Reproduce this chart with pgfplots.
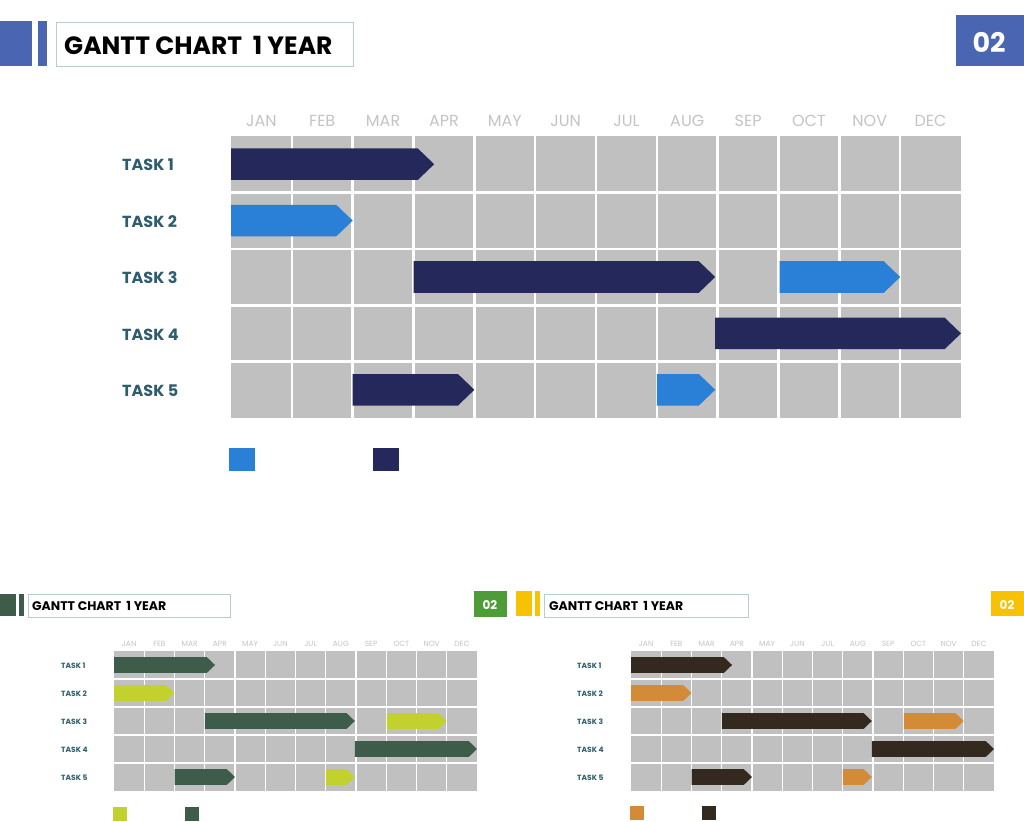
\documentclass[border=0pt]{standalone}
\usepackage{fontspec}
\setmainfont{Poppins}
\usepackage{pgfplots}
\pgfplotsset{compat=1.18}
\definecolor{accent}{HTML}{4A66B2}
\definecolor{navy}{HTML}{25285A}
\definecolor{lblue}{HTML}{2A7FD6}
\definecolor{cellgray}{HTML}{C0C0C0}
\definecolor{monthgray}{HTML}{C4C4C4}
\definecolor{taskteal}{HTML}{2E5D6E}
\definecolor{tborder}{HTML}{B7CDD2}
\definecolor{gdark}{HTML}{3D5C4A}
\definecolor{glight}{HTML}{C3D12F}
\definecolor{gbox}{HTML}{4E9C37}
\definecolor{bdark}{HTML}{33291F}
\definecolor{borange}{HTML}{D38B38}
\definecolor{ybox}{HTML}{F7C204}

\pgfplotsset{
  gantt/.style={
    scale only axis, anchor=north west, clip=false,
    xmin=0, xmax=12, ymin=0.5, ymax=5.5, y dir=reverse,
    axis background/.style={fill=cellgray},
    axis line style={draw=none},
    xtick={0.5,1.5,2.5,3.5,4.5,5.5,6.5,7.5,8.5,9.5,10.5,11.5},
    xticklabels={JAN,FEB,MAR,APR,MAY,JUN,JUL,AUG,SEP,OCT,NOV,DEC},
    xticklabel pos=upper,
    ytick={1,2,3,4,5},
    yticklabels={TASK 1,TASK 2,TASK 3,TASK 4,TASK 5},
    minor xtick={1,2,3,4,5,6,7,8,9,10,11},
    minor ytick={1.5,2.5,3.5,4.5},
    xminorgrids=true, yminorgrids=true,
    xmajorgrids=false, ymajorgrids=false,
    major tick length=0pt, minor tick length=0pt,
    legend columns=2,
    x tick label style={anchor=base, inner sep=0pt, text=monthgray},
    y tick label style={anchor=mid west, inner sep=0pt, text=taskteal},
  },
}

% the same task data in every panel: #1 light colour, #2 dark colour
\newcommand\ganttbars[2]{%
  % TASK 1: Jan -> early Apr (dark)
  \addplot[fill=#2,draw=none,forget plot] coordinates {(0,0.72) (3.07,0.72) (3.34,1) (3.07,1.28) (0,1.28)};
  % TASK 2: Jan -> Feb (light)
  \addplot[fill=#1,draw=none,forget plot] coordinates {(0,1.72) (1.73,1.72) (2,2) (1.73,2.28) (0,2.28)};
  % TASK 3: Apr -> Aug (dark), Oct -> Nov (light)
  \addplot[fill=#2,draw=none,forget plot] coordinates {(3,2.72) (7.69,2.72) (7.96,3) (7.69,3.28) (3,3.28)};
  \addplot[fill=#1,draw=none,forget plot] coordinates {(9.02,2.72) (10.73,2.72) (11,3) (10.73,3.28) (9.02,3.28)};
  % TASK 4: end Aug -> Dec (dark)
  \addplot[fill=#2,draw=none,forget plot] coordinates {(7.96,3.72) (11.73,3.72) (12,4) (11.73,4.28) (7.96,4.28)};
  % TASK 5: Mar -> Apr (dark), Aug (light)
  \addplot[fill=#2,draw=none,forget plot] coordinates {(2,4.72) (3.73,4.72) (4,5) (3.73,5.28) (2,5.28)};
  \addplot[fill=#1,draw=none,forget plot] coordinates {(7,4.72) (7.69,4.72) (7.96,5) (7.69,5.28) (7,5.28)};
  \addlegendimage{fill=#1,draw=none}\addlegendentry{}
  \addlegendimage{fill=#2,draw=none}\addlegendentry{}
}

\begin{document}
\begin{tikzpicture}
\useasboundingbox (0pt,0pt) rectangle (1024pt,-821pt);
\fill[white] (0pt,0pt) rectangle (1024pt,-821pt);

% ---------------- main panel ----------------
\fill[accent] (0pt,-21pt) rectangle (32pt,-66pt);
\fill[accent] (38pt,-21pt) rectangle (47pt,-66pt);
\draw[tborder, line width=1pt] (56.5pt,-22.5pt) rectangle (353pt,-67pt);
\node[anchor=base west, inner sep=0pt] at (64pt,-55pt) {\fontsize{25}{30}\selectfont\bfseries GANTT CHART\ \ 1 YEAR};
\fill[accent] (956pt,-15pt) rectangle (1024pt,-66pt);
\node[anchor=base, inner sep=0pt, text=white] at (989pt,-53pt) {\fontsize{27}{32}\selectfont\bfseries 02};

\begin{axis}[gantt,
  at={(231pt,-136pt)}, width=730pt, height=282pt,
  minor grid style={white, line width=2.6pt},
  x tick label style={font=\fontsize{16}{19}\selectfont, yshift=10pt},
  y tick label style={font=\fontsize{16}{19}\selectfont\bfseries, xshift=-109pt, yshift=-4pt},
  legend style={at={(axis description cs:-0.003,-0.106)}, anchor=north west,
    draw=none, fill=none, inner sep=0pt, column sep=0pt,
    nodes={inner sep=0pt, outer sep=0pt},
    /tikz/every even column/.append style={column sep=117pt}},
  legend image code/.code={\fill[#1] (0pt,-11.5pt) rectangle (26pt,11.5pt);},
]
\ganttbars{lblue}{navy}
\end{axis}

% ---------------- green panel ----------------
\fill[gdark] (0pt,-594pt) rectangle (16pt,-616pt);
\fill[gdark] (19pt,-594pt) rectangle (24pt,-616pt);
\draw[tborder, line width=0.8pt] (28pt,-594pt) rectangle (230pt,-617pt);
\node[anchor=base west, inner sep=0pt] at (32pt,-610pt) {\fontsize{12.5}{15}\selectfont\bfseries GANTT CHART\ \ 1 YEAR};
\fill[gbox] (474pt,-591pt) rectangle (507pt,-617pt);
\node[anchor=base, inner sep=0pt, text=white] at (490pt,-609pt) {\fontsize{12}{14}\selectfont\bfseries 02};

\begin{axis}[gantt,
  at={(114pt,-651pt)}, width=363pt, height=140pt,
  minor grid style={white, line width=1.3pt},
  x tick label style={font=\fontsize{7.5}{9}\selectfont, yshift=5pt},
  y tick label style={font=\fontsize{7.5}{9}\selectfont\bfseries, xshift=-53pt, yshift=-0.5pt},
  legend style={at={(axis description cs:-0.003,-0.114)}, anchor=north west,
    draw=none, fill=none, inner sep=0pt, column sep=0pt,
    nodes={inner sep=0pt, outer sep=0pt},
    /tikz/every even column/.append style={column sep=57pt}},
  legend image code/.code={\fill[#1] (0pt,-7pt) rectangle (14pt,7pt);},
]
\ganttbars{glight}{gdark}
\end{axis}

% ---------------- brown panel ----------------
\fill[ybox] (516pt,-591pt) rectangle (532pt,-616pt);
\fill[ybox] (535pt,-591pt) rectangle (540pt,-616pt);
\draw[tborder, line width=0.8pt] (544pt,-594pt) rectangle (748pt,-617pt);
\node[anchor=base west, inner sep=0pt] at (549pt,-610pt) {\fontsize{12.5}{15}\selectfont\bfseries GANTT CHART\ \ 1 YEAR};
\fill[ybox] (991pt,-591pt) rectangle (1024pt,-616pt);
\node[anchor=base, inner sep=0pt, text=white] at (1007pt,-609pt) {\fontsize{12}{14}\selectfont\bfseries 02};

\begin{axis}[gantt,
  at={(631pt,-651pt)}, width=363pt, height=140pt,
  minor grid style={white, line width=1.3pt},
  x tick label style={font=\fontsize{7.5}{9}\selectfont, yshift=5pt},
  y tick label style={font=\fontsize{7.5}{9}\selectfont\bfseries, xshift=-54pt, yshift=-0.5pt},
  legend style={at={(axis description cs:-0.003,-0.107)}, anchor=north west,
    draw=none, fill=none, inner sep=0pt, column sep=0pt,
    nodes={inner sep=0pt, outer sep=0pt},
    /tikz/every even column/.append style={column sep=57pt}},
  legend image code/.code={\fill[#1] (0pt,-7pt) rectangle (14pt,7pt);},
]
\ganttbars{borange}{bdark}
\end{axis}
\end{tikzpicture}
\end{document}
